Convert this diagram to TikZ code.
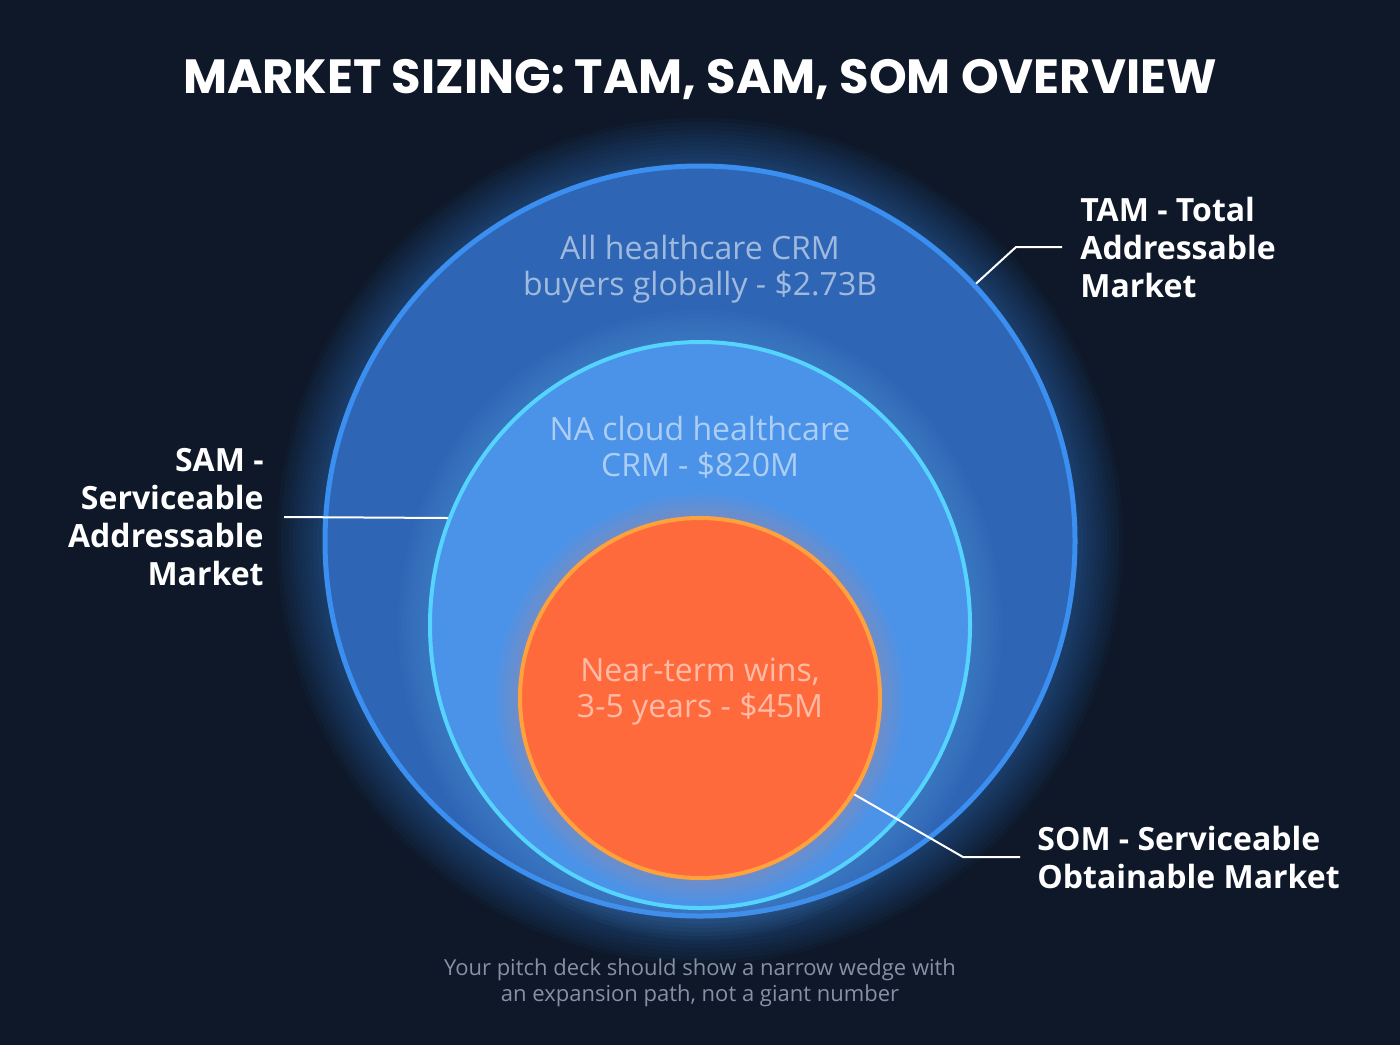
\documentclass[tikz,border=0pt]{standalone}
\usepackage{fontspec}
\setmainfont{Open Sans}
\newfontfamily\titlefont{Poppins}
\usetikzlibrary{positioning, shapes.geometric}

\definecolor{bgnavy}{HTML}{0E1829}
\definecolor{tamfill}{HTML}{2E66B5}
\definecolor{tamline}{HTML}{3A8FF0}
\definecolor{samfill}{HTML}{4A93E8}
\definecolor{samline}{HTML}{55D4FF}
\definecolor{somfill}{HTML}{FF6A3C}
\definecolor{somline}{HTML}{FFA23E}
\definecolor{notegray}{HTML}{8791A5}

\begin{document}
\begin{tikzpicture}[x=0.5pt, y=-0.5pt,
    ring/.style={inner sep=0pt, line width=2.5pt},
    intext/.style={text=white, text opacity=.55, align=center, font=\fontsize{16}{18}\selectfont},
    lbl/.style={text=white, inner sep=0pt, font=\fontsize{16}{19}\selectfont\bfseries},
    leader/.style={draw=white!85, line width=1pt}]
  % background
  \fill[bgnavy] (0,0) rectangle (1400,1045);
  \useasboundingbox (0,0) rectangle (1400,1045);

  % TAM
  \foreach \w in {4,8,...,48}
    \draw[tamline, opacity=.035, line width=\w pt] (700,541) circle[radius=375];
  \node[ring, circle, fill=tamfill, draw=tamline, minimum size=375pt] (tam) at (700,541) {};

  % SAM
  \foreach \w in {4,8,...,32}
    \draw[samfill!85!white, opacity=.04, line width=\w pt] (700,625) ellipse[x radius=270, y radius=283];
  \node[ring, ellipse, fill=samfill, draw=samline, line width=2pt, minimum width=270pt, minimum height=283pt] (sam) at (700,625) {};

  % SOM
  \foreach \w in {4,8,...,24}
    \draw[somfill!80!white, opacity=.04, line width=\w pt] (700,698) circle[radius=180];
  \node[ring, circle, fill=somfill, draw=somline, line width=2pt, minimum size=180pt] (som) at (700,698) {};

  % texts
  \node[text=white, font=\titlefont\fontsize{24}{28}\selectfont\bfseries] (title) at (700,80) {MARKET SIZING: TAM, SAM, SOM OVERVIEW};
  \node[intext] (tamtxt) at (700,269) {All healthcare CRM\\buyers globally - \$2.73B};
  \node[intext] (samtxt) at (700,447) {NA cloud healthcare\\CRM - \$820M};
  \node[intext] (somtxt) at (700,692) {Near-term wins,\\3-5 years - \$45M};
  \node[text=notegray, align=center, font=\fontsize{11}{13}\selectfont] (note) at (700,983)
    {Your pitch deck should show a narrow wedge with\\an expansion path, not a giant number};

  \node[lbl, anchor=west, align=left] (tamlbl) at (1080,247) {TAM - Total\\Addressable\\Market};
  \node[lbl, anchor=east, align=right] (samlbl) at (264,517) {SAM -\\Serviceable\\Addressable\\Market};
  \node[lbl, anchor=west, align=left] (somlbl) at (1037,857) {SOM - Serviceable\\Obtainable Market};

  % leaders
  \draw[leader] (tam.43) -- ([xshift=-32pt]tamlbl.west) -- ([xshift=-9pt]tamlbl.west);
  \draw[leader] (sam.157) -- ([xshift=10pt]samlbl.east);
  \draw[leader] (som.-32) -- ([xshift=-37pt]somlbl.west) -- ([xshift=-8.5pt]somlbl.west);
\end{tikzpicture}
\end{document}
